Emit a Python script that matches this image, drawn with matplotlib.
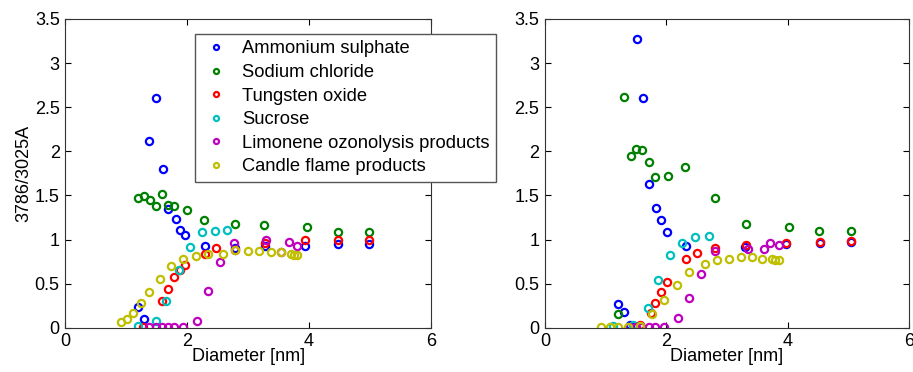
import matplotlib
matplotlib.use("Agg")
import matplotlib.pyplot as plt

plt.rcParams['font.family'] = ['Liberation Sans', 'DejaVu Sans']

names = ["Ammonium sulphate", "Sodium chloride", "Tungsten oxide", "Sucrose",
         "Limonene ozonolysis products", "Candle flame products"]
colors = [(0, 0, 1), (0, 0.5, 0), (1, 0, 0), (0, 0.75, 0.75), (0.75, 0, 0.75), (0.75, 0.75, 0)]

# left panel
amm_x_L = [1.19, 1.29, 1.37, 1.49, 1.60, 1.69, 1.81, 1.89, 1.97, 2.29, 2.78, 3.28, 3.94, 4.47, 4.98]
amm_y_L = [0.23, 0.10, 2.12, 2.60, 1.80, 1.35, 1.23, 1.11, 1.05, 0.93, 0.90, 0.93, 0.93, 0.95, 0.95]
nacl_x_L = [1.19, 1.29, 1.39, 1.49, 1.58, 1.69, 1.79, 1.99, 2.27, 2.78, 3.26, 3.97, 4.47, 4.98]
nacl_y_L = [1.47, 1.49, 1.45, 1.38, 1.52, 1.39, 1.38, 1.33, 1.22, 1.18, 1.16, 1.14, 1.08, 1.08]
wo3_x_L = [1.28, 1.58, 1.69, 1.79, 1.89, 1.97, 2.29, 2.47, 2.78, 3.28, 3.93, 4.47, 4.98]
wo3_y_L = [0.01, 0.30, 0.44, 0.58, 0.65, 0.71, 0.84, 0.90, 0.88, 0.96, 1.00, 0.99, 0.99]
suc_x_L = [1.19, 1.49, 1.66, 1.86, 2.04, 2.24, 2.45, 2.66]
suc_y_L = [0.02, 0.08, 0.30, 0.65, 0.92, 1.08, 1.10, 1.11]
lim_x_L = [1.37, 1.49, 1.58, 1.69, 1.79, 1.93, 2.16, 2.35, 2.54, 2.77, 3.29, 3.54, 3.67, 3.81]
lim_y_L = [0.01, 0.01, 0.01, 0.01, 0.01, 0.01, 0.08, 0.42, 0.74, 0.96, 1.00, 0.86, 0.97, 0.93]
cand_x_L = [0.91, 1.01, 1.11, 1.25, 1.38, 1.55, 1.74, 1.93, 2.15, 2.35, 2.58, 2.79, 3.00, 3.18,
            3.37, 3.54, 3.70, 3.75, 3.81]
cand_y_L = [0.06, 0.10, 0.17, 0.28, 0.40, 0.55, 0.70, 0.78, 0.81, 0.84, 0.84, 0.88, 0.87, 0.87,
            0.86, 0.86, 0.84, 0.82, 0.83]

# right panel
amm_x_R = [1.21, 1.31, 1.40, 1.51, 1.62, 1.71, 1.83, 1.91, 2.01, 2.32, 3.30, 3.98, 4.53, 5.04]
amm_y_R = [0.27, 0.18, 0.03, 3.27, 2.60, 1.63, 1.36, 1.22, 1.09, 0.93, 0.92, 0.95, 0.96, 0.97]
nacl_x_R = [1.21, 1.30, 1.41, 1.50, 1.60, 1.71, 1.81, 2.02, 2.30, 2.81, 3.31, 4.03, 4.52, 5.04]
nacl_y_R = [0.16, 2.62, 1.95, 2.03, 2.02, 1.88, 1.71, 1.72, 1.82, 1.47, 1.18, 1.14, 1.10, 1.10]
wo3_x_R = [1.57, 1.74, 1.82, 1.91, 2.01, 2.32, 2.50, 2.81, 3.31, 3.98, 4.53, 5.04]
wo3_y_R = [0.03, 0.17, 0.28, 0.40, 0.52, 0.78, 0.85, 0.90, 0.94, 0.96, 0.97, 0.98]
suc_x_R = [1.12, 1.45, 1.69, 1.87, 2.06, 2.26, 2.47, 2.70]
suc_y_R = [0.02, 0.03, 0.22, 0.54, 0.82, 0.96, 1.03, 1.04]
lim_x_R = [1.39, 1.50, 1.59, 1.71, 1.81, 1.97, 2.19, 2.38, 2.58, 2.81, 3.34, 3.61, 3.71, 3.85]
lim_y_R = [0.01, 0.01, 0.01, 0.01, 0.01, 0.01, 0.11, 0.34, 0.61, 0.87, 0.89, 0.89, 0.96, 0.94]
cand_x_R = [0.93, 1.07, 1.21, 1.37, 1.57, 1.76, 1.96, 2.17, 2.38, 2.63, 2.83, 3.04, 3.23, 3.42,
            3.57, 3.75, 3.79, 3.86]
cand_y_R = [0.01, 0.01, 0.01, 0.01, 0.02, 0.15, 0.32, 0.49, 0.63, 0.72, 0.77, 0.78, 0.80, 0.80,
            0.78, 0.78, 0.77, 0.77]

left = [(amm_x_L, amm_y_L), (nacl_x_L, nacl_y_L), (wo3_x_L, wo3_y_L),
        (suc_x_L, suc_y_L), (lim_x_L, lim_y_L), (cand_x_L, cand_y_L)]
right = [(amm_x_R, amm_y_R), (nacl_x_R, nacl_y_R), (wo3_x_R, wo3_y_R),
         (suc_x_R, suc_y_R), (lim_x_R, lim_y_R), (cand_x_R, cand_y_R)]

fig = plt.figure(figsize=(9.13, 3.72), dpi=100)
ax1 = fig.add_axes([0.0715, 0.119, 0.4005, 0.830])
ax2 = fig.add_axes([0.5969, 0.119, 0.3987, 0.830])

def draw(ax, data):
    for (x, y), c, n in zip(data, colors, names):
        ax.plot(x, y, 'o', mfc='none', mec=c, ms=5.2, mew=1.6, label=n)
    ax.set_xlim(0, 6)
    ax.set_ylim(0, 3.5)
    ax.set_xticks([0, 2, 4, 6])
    ax.set_yticks([0, 0.5, 1, 1.5, 2, 2.5, 3, 3.5])
    ax.set_yticklabels(['0', '0.5', '1', '1.5', '2', '2.5', '3', '3.5'])
    ax.tick_params(direction='in', top=True, right=True, length=4, labelsize=13)
    ax.tick_params(axis='x', pad=4)
    ax.tick_params(axis='y', pad=4)
    for s in ax.spines.values():
        s.set_color('#333333')
    ax.set_xlabel("Diameter [nm]", fontsize=13, labelpad=-2)

draw(ax1, left)
draw(ax2, right)
ax1.set_ylabel("3786/3025A", fontsize=13, labelpad=2)

h, l = ax1.get_legend_handles_labels()
leg = fig.legend(h, l, loc='upper left', bbox_to_anchor=(0.2136, 0.9086),
                 fontsize=13.2, fancybox=False, framealpha=1, edgecolor='#555555',
                 borderpad=0.35, labelspacing=0.36, handletextpad=0.6, handlelength=1.6,
                 markerscale=0.7, borderaxespad=0)

fig.savefig("out.png", dpi=100)
